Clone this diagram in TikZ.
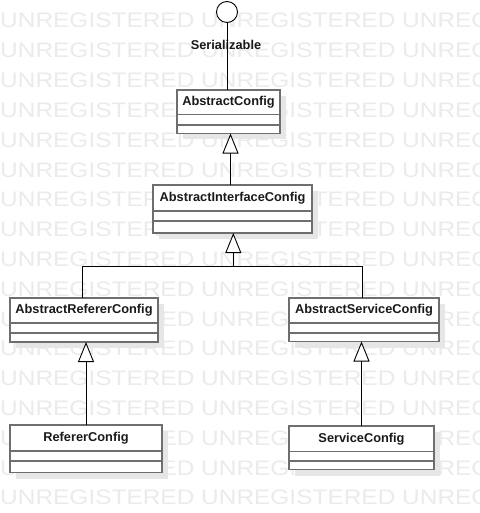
\documentclass[tikz,border=0pt]{standalone}
\usepackage{fontspec}
\setmainfont{Liberation Sans}
\usetikzlibrary{arrows.meta}
\definecolor{wmgray}{HTML}{EBEBEB}
\definecolor{shadowgray}{HTML}{E6E6E6}
\definecolor{boxgray}{HTML}{6E6E6E}
\definecolor{txt}{HTML}{1A1A1A}
\tikzset{
  wm/.style={inner sep=0pt, anchor=base west, text=wmgray, font=\fontsize{21}{21}\selectfont, xscale=1.164},
  classbox/.style={draw=boxgray, line width=1.5pt, fill=white, inner sep=0pt, outer sep=0pt},
  divider/.style={draw=boxgray, line width=1.5pt},
  classname/.style={inner sep=0pt, text=txt, font=\bfseries\fontsize{12.8}{14}\selectfont},
  conn/.style={draw=black, line width=0.9pt},
  inherit/.style={conn, -{Triangle[open, fill=white, length=20pt, width=16pt, line width=0.9pt]}},
}
% name, x1, y1, x2, y2, divider1, divider2, title
\newcommand\umlclass[8]{%
  \fill[shadowgray] (#2+6,#3+6) rectangle (#4+6,#5+6);
  \node[classbox, minimum width={#4-#2}, minimum height={#5-#3}] (#1) at ({(#2+#4)/2},{(#3+#5)/2}) {};
  \draw[divider] (#2,#6) -- (#4,#6);
  \draw[divider] (#2,#7) -- (#4,#7);
  \node[classname] (#1-title) at ({(#2+#4)/2},{(#3+#6)/2}) {#8};
}
\begin{document}
\begin{tikzpicture}[x=1pt, y=-1pt]
\useasboundingbox (0,0) rectangle (479,513);
\fill[white] (0,0) rectangle (479,513);
\foreach \k in {0,...,16}{
  \node[wm] (wm\k) at (0, {28+29.8*\k}) {UNREGISTERED UNREGISTERED UNREGISTERED};
}
\umlclass{ac}{177}{90}{280}{133.5}{114.5}{125}{AbstractConfig}
\umlclass{aic}{153}{185}{312}{233}{211}{221}{AbstractInterfaceConfig}
\umlclass{arc}{10}{298}{158}{342}{323}{333}{AbstractRefererConfig}
\umlclass{asc}{289}{298}{439}{341.5}{323}{333}{AbstractServiceConfig}
\umlclass{rc}{10}{425}{162}{472.5}{451}{461}{RefererConfig}
\umlclass{sc}{289}{426}{434}{469.5}{451.5}{461}{ServiceConfig}

% lollipop interface
\node[draw=black, line width=0.9pt, circle, minimum size=21pt, inner sep=0pt, fill=white] (iface) at (227,12) {};
\node[classname] (ifacelabel) at (226,45) {Serializable};
\draw[conn] (iface.south) -- (iface.south |- ac.north);

% generalizations
\coordinate (acarrow) at (230.5,133.5);
\draw[inherit] (acarrow |- aic.north) -- (acarrow);
\coordinate (busmid) at (233.3,266);
\coordinate (busL) at (82.5,266);
\coordinate (busR) at (362.5,266);
\draw[inherit] (busmid) -- (busmid |- aic.south);
\draw[conn] (arc.north -| busL) -- (busL) -- (busR) -- (asc.north -| busR);
\draw[inherit] (rc.north) -- (rc.north |- arc.south);
\draw[inherit] (sc.north) -- (sc.north |- asc.south);
\end{tikzpicture}
\end{document}
